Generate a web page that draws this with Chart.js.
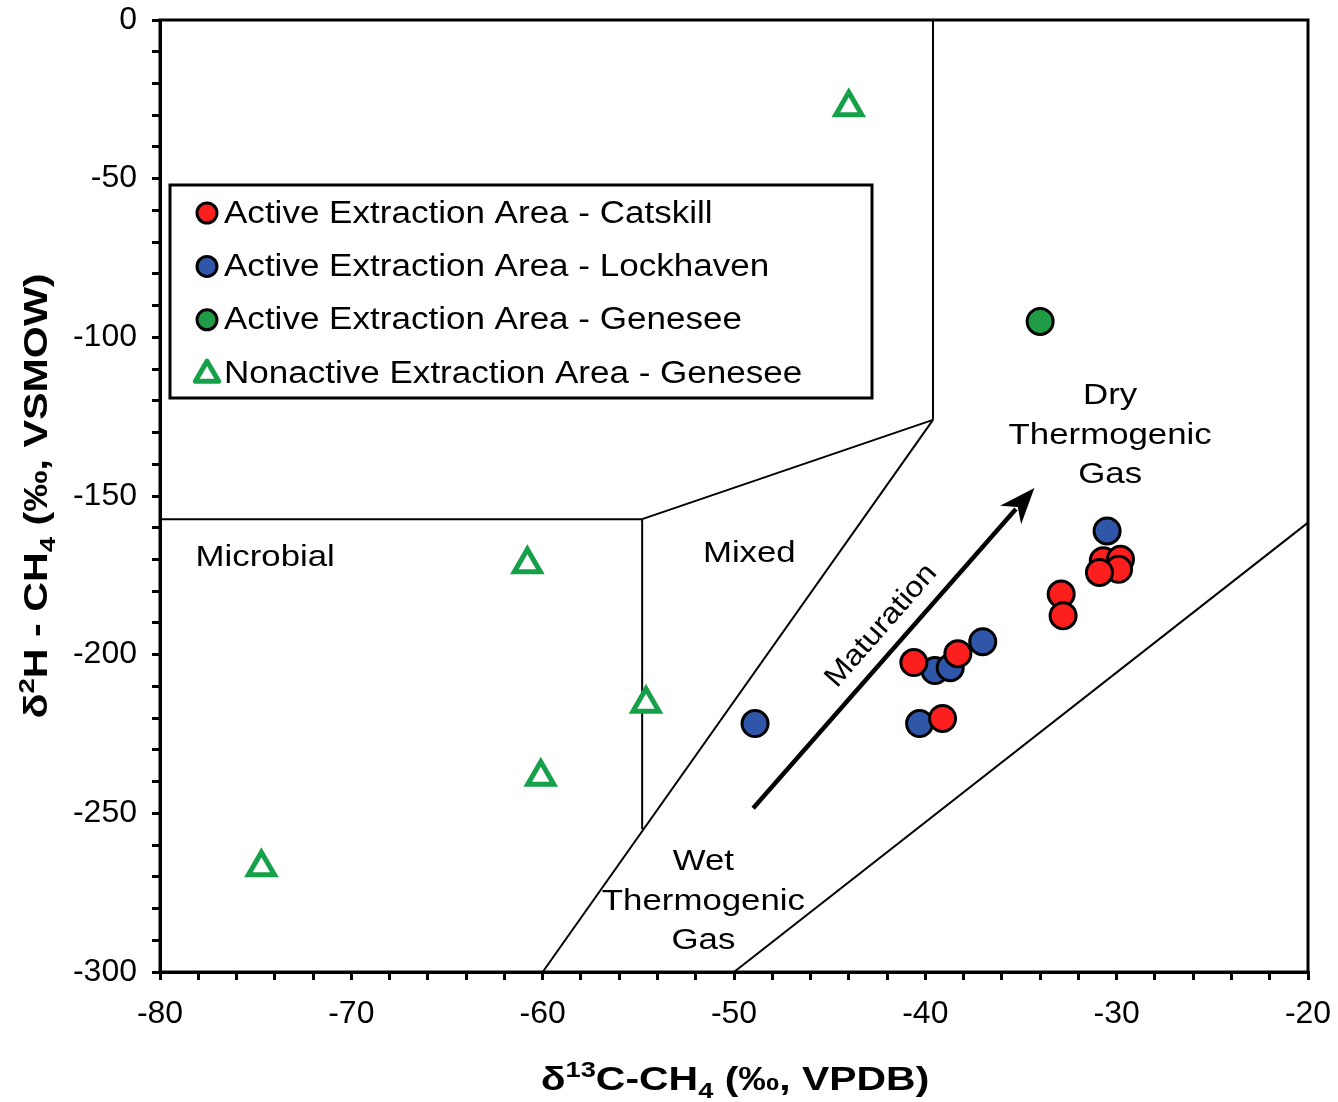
<!DOCTYPE html>
<html><head><meta charset="utf-8">
<script src="https://cdn.jsdelivr.net/npm/chart.js@4.4.1/dist/chart.umd.min.js"></script>
<style>html,body{margin:0;padding:0;background:#fff;}#wrap{width:1338px;height:1102px;}</style>
</head><body><div id="wrap"><canvas id="c" width="1338" height="1102"></canvas></div>
<script>
// ---- Data ----
const catskillX = [-40.6, -38.3, -39.1, -32.9, -32.8, -30.7, -29.8, -29.9, -30.9];
const catskillY = [-202.5, -199.7, -220.1, -180.9, -187.7, -170.4, -169.9, -173.1, -174.1];
const lockhavenX = [-48.9, -40.3, -39.5, -38.7, -37.0, -30.5];
const lockhavenY = [-221.7, -221.7, -205.0, -204.1, -195.9, -161.0];
const geneseeActiveX = [-34.0];
const geneseeActiveY = [-95.0];
const geneseeNonX = [-44.0, -60.8, -54.6, -60.1, -74.7];
const geneseeNonY = [-27.5, -171.5, -215.5, -238.5, -267.0];
const seriesLabels = ['Active Extraction Area - Catskill','Active Extraction Area - Lockhaven','Active Extraction Area - Genesee','Nonactive Extraction Area - Genesee'];
const xTickLabels = [-80,-70,-60,-50,-40,-30,-20];
const yTickLabels = [0,-50,-100,-150,-200,-250,-300];
// field boundaries (data units)
const boundaryStart = [[-80,-157.3],[-54.8,-157.3],[-54.8,-157.3],[-39.6,0],[-39.6,-126],[-50,-300]];
const boundaryEnd   = [[-54.8,-157.3],[-54.8,-255],[-39.6,-126],[-39.6,-126],[-60,-300],[-20,-158.4]];
const arrowFrom = [-49.0,-248.4];
const arrowTo = [-34.3,-147.5];
const regionNames = [['Microbial'],['Mixed'],['Dry','Thermogenic','Gas'],['Wet','Thermogenic','Gas']];
const regionAnchors = [[-74.5,-169.5],[-49.2,-168.2],[-30.34,-118.6],[-51.6,-265.4]];

const pts = (xs, ys) => xs.map((x,i)=>({x, y: ys[i]}));
const FONT = '"Liberation Sans", Arial, sans-serif';
const SX = 1.2; // horizontal stretch of the original artwork's lettering

function stretchedText(ctx, t, x, y, align, sx){
  ctx.save();
  ctx.translate(x, y);
  ctx.scale(sx || SX, 1);
  ctx.textAlign = align || 'center';
  ctx.fillText(t, 0, 0);
  ctx.restore();
}

const overlay = {
  id: 'overlay',
  beforeDatasetsDraw(chart){
    const {ctx, scales:{x, y}, chartArea:ca} = chart;
    ctx.save();
    ctx.strokeStyle = '#000'; ctx.lineWidth = 3;
    ctx.strokeRect(ca.left, ca.top, ca.right-ca.left, ca.bottom-ca.top);
    ctx.lineWidth = 2;
    boundaryStart.forEach((s,i)=>{
      const e = boundaryEnd[i];
      ctx.beginPath();
      ctx.moveTo(x.getPixelForValue(s[0]), y.getPixelForValue(s[1]));
      ctx.lineTo(x.getPixelForValue(e[0]), y.getPixelForValue(e[1]));
      ctx.stroke();
    });
    // arrow
    const ax1 = x.getPixelForValue(arrowFrom[0]), ay1 = y.getPixelForValue(arrowFrom[1]);
    const ax2 = x.getPixelForValue(arrowTo[0]), ay2 = y.getPixelForValue(arrowTo[1]);
    const ang = Math.atan2(ay2-ay1, ax2-ax1);
    const hl = 36, hw = 14;
    const bx = ax2 - hl*Math.cos(ang), by = ay2 - hl*Math.sin(ang);
    ctx.lineWidth = 4.5;
    ctx.beginPath(); ctx.moveTo(ax1, ay1); ctx.lineTo(bx+8*Math.cos(ang), by+8*Math.sin(ang)); ctx.stroke();
    ctx.fillStyle = '#000';
    ctx.beginPath();
    ctx.moveTo(ax2, ay2);
    ctx.lineTo(bx + hw*Math.sin(ang), by - hw*Math.cos(ang));
    ctx.lineTo(bx + 0.3*hl*Math.cos(ang), by + 0.3*hl*Math.sin(ang));
    ctx.lineTo(bx - hw*Math.sin(ang), by + hw*Math.cos(ang));
    ctx.closePath(); ctx.fill();
    // Maturation label (parallel to the arrow)
    ctx.font = '29px ' + FONT;
    ctx.textBaseline = 'middle';
    const mx = ax1 + 0.52*(ax2-ax1), my = ay1 + 0.52*(ay2-ay1);
    ctx.save();
    ctx.translate(mx + 24*Math.sin(ang), my - 24*Math.cos(ang));
    ctx.rotate(ang);
    ctx.scale(1.12, 1);
    ctx.textAlign = 'center';
    ctx.fillText('Maturation', 0, 0);
    ctx.restore();
    // region labels
    ctx.font = '29px ' + FONT;
    regionNames.forEach((lines,i)=>{
      const px = x.getPixelForValue(regionAnchors[i][0]);
      const py = y.getPixelForValue(regionAnchors[i][1]);
      lines.forEach((t,j)=>{ stretchedText(ctx, t, px, py + j*39.5, 'center'); });
    });
    ctx.restore();
  },
  afterDraw(chart){
    const {ctx, chartArea:ca} = chart;
    ctx.save();
    // legend
    const lx = 170, ly = 185, lw = 702, lh = 213;
    ctx.fillStyle = '#fff'; ctx.fillRect(lx, ly, lw, lh);
    ctx.strokeStyle = '#000'; ctx.lineWidth = 3; ctx.strokeRect(lx, ly, lw, lh);
    ctx.font = '31px ' + FONT; ctx.textBaseline='middle';
    chart.data.datasets.forEach((ds,i)=>{
      const cy = 213 + i*53.4, cx = 207;
      ctx.lineWidth = ds.borderWidth;
      ctx.strokeStyle = ds.borderColor; ctx.fillStyle = ds.backgroundColor;
      ctx.lineJoin = 'round';
      ctx.beginPath();
      if (ds.pointStyle === 'triangle') {
        const r = 13;
        ctx.moveTo(cx, cy - r + 1);
        ctx.lineTo(cx + r*0.9, cy + r*0.55+1);
        ctx.lineTo(cx - r*0.9, cy + r*0.55+1);
        ctx.closePath();
      } else {
        ctx.arc(cx, cy, 10, 0, Math.PI*2);
      }
      ctx.fill(); ctx.stroke();
      ctx.fillStyle = '#000';
      stretchedText(ctx, ds.label, 224, cy+1, 'left', 1.13);
    });
    // axis titles with sub/superscripts
    const big = 33, small = 22;
    const drawRich = (parts, xStart, yBase) => {
      let xx = xStart;
      parts.forEach(p=>{
        ctx.font = 'bold ' + (p.s ? small : big) + 'px ' + FONT;
        const dy = p.s === 'sup' ? -13 : (p.s === 'sub' ? 8 : 0);
        ctx.fillText(p.t, xx, yBase + dy);
        xx += ctx.measureText(p.t).width;
      });
    };
    const measureRich = (parts) => parts.reduce((w,p)=>{ ctx.font='bold '+(p.s?small:big)+'px '+FONT; return w+ctx.measureText(p.t).width; },0);
    ctx.fillStyle = '#000'; ctx.textAlign='left'; ctx.textBaseline='alphabetic';
    const xt = [{t:'δ'},{t:'13',s:'sup'},{t:'C-CH'},{t:'4',s:'sub'},{t:' (‰, VPDB)'}];
    const wx = measureRich(xt);
    ctx.save();
    ctx.translate((ca.left+ca.right)/2 + 1, 1090);
    ctx.scale(1.24, 1);
    drawRich(xt, -wx/2, 0);
    ctx.restore();
    const yt = [{t:'δ'},{t:'2',s:'sup'},{t:'H - CH'},{t:'4',s:'sub'},{t:' (‰, VSMOW)'}];
    const wy = measureRich(yt);
    ctx.save();
    ctx.translate(47, (ca.top+ca.bottom)/2);
    ctx.rotate(-Math.PI/2);
    ctx.scale(1.25, 1);
    drawRich(yt, -wy/2, 0);
    ctx.restore();
    ctx.restore();
  }
};

const common = {showLine:false};
new Chart(document.getElementById('c'), {
  type: 'scatter',
  data: { datasets: [
    {...common, label: seriesLabels[0], data: pts(catskillX, catskillY), pointStyle:'circle', pointRadius: 13, borderWidth: 3, borderColor:'#000', backgroundColor:'#fd1e1e'},
    {...common, label: seriesLabels[1], data: pts(lockhavenX, lockhavenY), pointStyle:'circle', pointRadius: 13, borderWidth: 3, borderColor:'#000', backgroundColor:'#2f56a8'},
    {...common, label: seriesLabels[2], data: pts(geneseeActiveX, geneseeActiveY), pointStyle:'circle', pointRadius: 13, borderWidth: 3, borderColor:'#000', backgroundColor:'#1f9c45'},
    {...common, label: seriesLabels[3], data: pts(geneseeNonX, geneseeNonY), pointStyle:'triangle', pointRadius: 15, borderWidth: 5, borderColor:'#16a04a', backgroundColor:'#fff'}
  ]},
  options: {
    responsive: false, animation: false,
    layout: { padding: { left: 0, right: 30, top: 18, bottom: 0 } },
    plugins: { legend: { display: false }, tooltip: { enabled: false } },
    scales: {
      x: { type:'linear', min:-80, max:-20,
        afterFit(s){ s.height = 130; s.paddingLeft = 0; s.paddingRight = 0; },
        border: { display: true, color:'#000', width: 3 },
        grid: { drawOnChartArea:false, drawTicks:true, tickLength: 8, color:'#000', lineWidth: 3 },
        ticks: { stepSize: 2, color:'#000', font:{size:32, family: FONT}, padding: 15, maxRotation:0, autoSkip:false,
          callback: (v)=> xTickLabels.includes(v) ? String(v) : '' }
      },
      y: { type:'linear', min:-300, max:0,
        afterFit(s){ s.width = 160; s.paddingTop = 0; s.paddingBottom = 0; },
        border: { display: true, color:'#000', width: 3 },
        grid: { drawOnChartArea:false, drawTicks:true, tickLength: 8, color:'#000', lineWidth: 3 },
        ticks: { stepSize: 10, color:'#000', font:{size:32, family: FONT}, padding: 15, autoSkip:false,
          callback: (v)=> yTickLabels.includes(v) ? String(v) : '' }
      }
    }
  },
  plugins: [overlay]
});
</script></body></html>
